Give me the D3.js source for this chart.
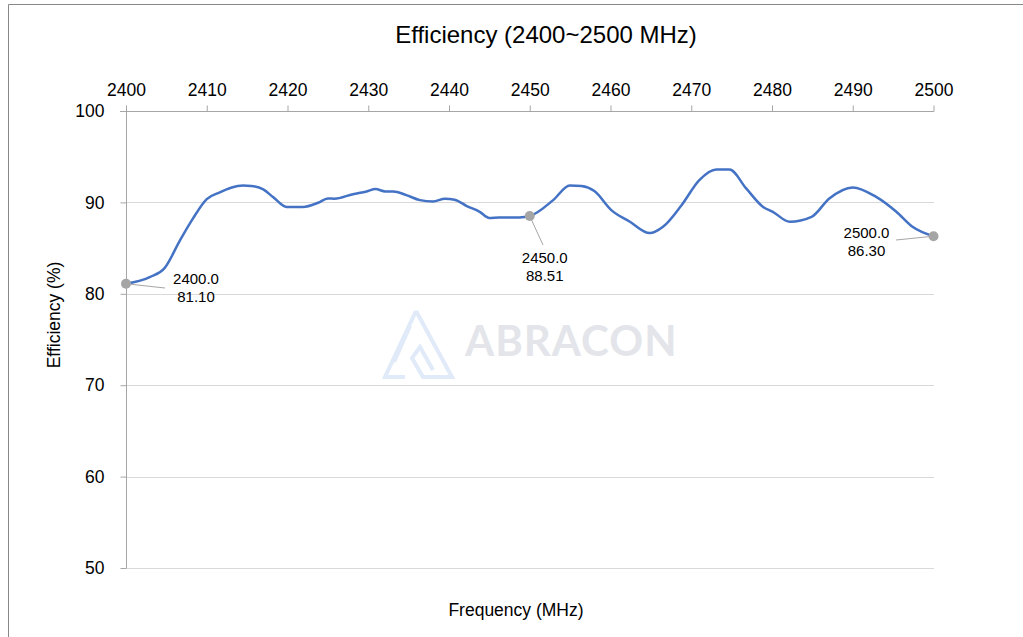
<!DOCTYPE html>
<html><head><meta charset="utf-8">
<script src="https://cdn.jsdelivr.net/npm/d3@7"></script>
<style>body{margin:0;background:#fff}svg{display:block;font-family:"Liberation Sans",Arial,sans-serif}</style>
</head><body>
<svg id="c" width="1023" height="637"></svg>
<script>
const freq = [2400,2403,2404.8,2406.7,2408.3,2410,2411.6,2413,2414.5,2415.5,2417,2418.2,2419.9,2421.9,2423.8,2425,2425.8,2428.1,2429.8,2430.9,2432.1,2433.1,2434.7,2436.4,2438,2439.5,2440.7,2442.2,2443.8,2445,2446.2,2448.7,2450,2452.9,2454.95,2456.4,2458,2460.1,2462.4,2464.85,2466.5,2468.8,2471,2473.1,2474.75,2476.8,2478.9,2480.1,2482.2,2484.9,2487.1,2490,2492.9,2495.4,2497.4,2500];
const eff = [81.10,81.85,82.84,85.87,88.25,90.36,91.09,91.6,91.85,91.8,91.42,90.6,89.5,89.5,89.96,90.43,90.4,90.9,91.2,91.46,91.2,91.2,90.8,90.25,90.1,90.4,90.3,89.6,88.97,88.3,88.36,88.36,88.51,90.25,91.86,91.79,91.24,89.16,87.88,86.64,87.33,89.7,92.44,93.6,93.6,91.53,89.5,88.97,87.88,88.42,90.43,91.64,90.6,88.97,87.33,86.30];
const xTicks = [2400,2410,2420,2430,2440,2450,2460,2470,2480,2490,2500];
const yTicks = [50,60,70,80,90,100];
const labelFreqs = [2400,2450,2500];
const labelTexts = [["2400.0","81.10"],["2450.0","88.51"],["2500.0","86.30"]];

const FF = "'Liberation Sans',Arial,sans-serif";
const svg = d3.select("#c");
const x = d3.scaleLinear().domain([2400,2500]).range([126,933.5]);
const y = d3.scaleLinear().domain([50,100]).range([568,111]);

// outer border
svg.append("path").attr("d","M8.5,637 V4.5 H1023").attr("fill","none").attr("stroke","#888").attr("stroke-width",1);

// watermark
const wm = svg.append("g");
wm.append("text").attr("x",465).attr("y",356).attr("font-family","Lato, 'Open Sans', sans-serif").attr("font-weight",700)
  .attr("font-size",42).attr("letter-spacing",1).attr("fill","#e3e5ea").text("ABRACON");
const lg = wm.append("g").attr("fill","none").attr("stroke","#e0eaf8").attr("stroke-width",4).attr("stroke-linejoin","miter");
lg.append("path").attr("d","M416,311 L385,377 L405,377");
lg.append("path").attr("d","M416,311 L452,377 L423,377 L412,358 L420,347 L433,370");
lg.append("path").attr("d","M410,326 L394,362");

// gridlines
svg.append("g").selectAll("line").data(yTicks.filter(d=>d<100)).join("line")
  .attr("x1",126).attr("x2",934).attr("y1",d=>Math.round(y(d))+0.5).attr("y2",d=>Math.round(y(d))+0.5)
  .attr("stroke","#d9d9d9").attr("stroke-width",1);

// top axis
const xa = svg.append("g").attr("transform","translate(0,111.5)")
  .call(d3.axisTop(x).tickValues(xTicks).tickFormat(d3.format("d")).tickSize(6).tickPadding(10));
xa.select(".domain").attr("stroke","#a6a6a6").attr("d","M120,0H934");
xa.selectAll(".tick line").attr("stroke","#a6a6a6");
xa.selectAll("text").attr("font-size",17.5).attr("fill","#000").attr("font-family",FF);

// left axis
const ya = svg.append("g").attr("transform","translate(126.5,0)")
  .call(d3.axisLeft(y).tickValues(yTicks).tickSize(6).tickPadding(16));
ya.select(".domain").attr("stroke","#a6a6a6").attr("d","M0,111V568");
ya.selectAll(".tick line").attr("stroke","#a6a6a6");
ya.selectAll("text").attr("font-size",17.5).attr("fill","#000").attr("font-family",FF);

// line
const pts = freq.map((f,i)=>[f,eff[i]]);
svg.append("path").datum(pts)
  .attr("d",d3.line().x(d=>x(d[0])).y(d=>y(d[1])).curve(d3.curveMonotoneX))
  .attr("fill","none").attr("stroke","#4472C4").attr("stroke-width",2.5).attr("stroke-linejoin","round");

// labels
const lab = [
  {dx:70, dy:0, lx:165, ly:288},
  {dx:15, dy:47, lx:543, ly:245},
  {dx:-67, dy:2, lx:896, ly:240}
];
labelFreqs.forEach((f,i)=>{
  const v = eff[freq.indexOf(f)];
  const px = x(f), py = y(v);
  const L = lab[i];
  svg.append("line").attr("x1",px).attr("y1",py).attr("x2",L.lx).attr("y2",L.ly).attr("stroke","#a6a6a6").attr("stroke-width",1);
  const t = svg.append("text").attr("text-anchor","middle").attr("font-size",15).attr("fill","#000");
  t.append("tspan").attr("x",px+L.dx).attr("y",py+L.dy).text(labelTexts[i][0]);
  t.append("tspan").attr("x",px+L.dx).attr("y",py+L.dy+18).text(labelTexts[i][1]);
  svg.append("circle").attr("cx",px).attr("cy",py).attr("r",5).attr("fill","#A5A5A5");
});

// titles
svg.append("text").attr("x",546).attr("y",43).attr("text-anchor","middle").attr("font-size",24).attr("fill","#000").text("Efficiency (2400~2500 MHz)");
svg.append("text").attr("x",516).attr("y",616).attr("text-anchor","middle").attr("font-size",17.5).attr("fill","#000").text("Frequency (MHz)");
svg.append("text").attr("transform","translate(60,315) rotate(-90)").attr("text-anchor","middle").attr("font-size",17.5).attr("fill","#000").text("Efficiency (%)");
</script>
</body></html>
